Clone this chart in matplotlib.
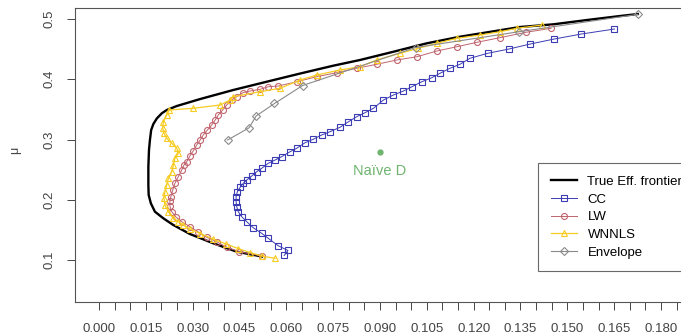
import numpy as np
import matplotlib
matplotlib.use("Agg")
import matplotlib.pyplot as plt

plt.rcParams['font.family'] = ['Liberation Sans', 'DejaVu Sans']

# true efficient frontier (sigma, mu)
true_sd = [0.0522, 0.0441, 0.0366, 0.0291, 0.0238, 0.0206, 0.0179, 0.0166, 0.0159, 0.0158,
           0.0158, 0.0160, 0.0163, 0.0167, 0.0174, 0.0185, 0.0201, 0.0217, 0.0249, 0.0324,
           0.0430, 0.0537, 0.0644, 0.0750, 0.0836, 0.0943, 0.1050, 0.1156, 0.1348, 0.1455,
           0.1562, 0.1669, 0.1726]
true_mu = [0.1058, 0.1138, 0.1277, 0.1432, 0.1581, 0.1692, 0.1802, 0.1941, 0.2079, 0.2245,
           0.2549, 0.2826, 0.2992, 0.3158, 0.3257, 0.3349, 0.3435, 0.3490, 0.3556, 0.3672,
           0.3822, 0.3959, 0.4095, 0.4225, 0.4320, 0.4457, 0.4597, 0.4706, 0.4867, 0.4912,
           0.4983, 0.5050, 0.5083]

cc_sd = [0.0593, 0.0605, 0.0574, 0.0542, 0.0521, 0.0494, 0.0473, 0.0457, 0.0446, 0.0441,
         0.0439, 0.0439, 0.0443, 0.0452, 0.0462, 0.0473, 0.0489, 0.0505, 0.0521, 0.0542,
         0.0564, 0.0585, 0.0612, 0.0633, 0.0660, 0.0686, 0.0713, 0.0740, 0.0772, 0.0799,
         0.0825, 0.0852, 0.0879, 0.0911, 0.0943, 0.0975, 0.1002, 0.1034, 0.1066, 0.1092,
         0.1124, 0.1156, 0.1188, 0.1245, 0.1313, 0.1381, 0.1458, 0.1545, 0.1651]
cc_mu = [0.1075, 0.1158, 0.1237, 0.1360, 0.1443, 0.1536, 0.1636, 0.1719, 0.1802, 0.1885,
         0.1968, 0.2051, 0.2134, 0.2207, 0.2273, 0.2328, 0.2394, 0.2466, 0.2522, 0.2605,
         0.2660, 0.2715, 0.2798, 0.2854, 0.2947, 0.3003, 0.3075, 0.3130, 0.3203, 0.3295,
         0.3378, 0.3445, 0.3518, 0.3656, 0.3739, 0.3805, 0.3876, 0.3959, 0.4026, 0.4099,
         0.4182, 0.4248, 0.4348, 0.4431, 0.4502, 0.4585, 0.4668, 0.4751, 0.4834]

lw_sd = [0.0522, 0.0449, 0.0409, 0.0377, 0.0345, 0.0318, 0.0291, 0.0265, 0.0247, 0.0233,
         0.0227, 0.0227, 0.0230, 0.0236, 0.0243, 0.0254, 0.0265, 0.0272, 0.0281, 0.0291,
         0.0302, 0.0313, 0.0324, 0.0334, 0.0347, 0.0361, 0.0372, 0.0382, 0.0396, 0.0409,
         0.0425, 0.0441, 0.0462, 0.0484, 0.0516, 0.0542, 0.0574, 0.0633, 0.0697, 0.0761,
         0.0825, 0.0889, 0.0954, 0.1018, 0.1082, 0.1146, 0.1210, 0.1284, 0.1367, 0.1448]
lw_mu = [0.1066, 0.1138, 0.1211, 0.1304, 0.1377, 0.1465, 0.1553, 0.1636, 0.1709, 0.1802,
         0.1896, 0.1979, 0.2051, 0.2162, 0.2273, 0.2383, 0.2494, 0.2577, 0.2632, 0.2726,
         0.2814, 0.2909, 0.2992, 0.3075, 0.3158, 0.3241, 0.3324, 0.3407, 0.3490, 0.3573,
         0.3656, 0.3710, 0.3780, 0.3805, 0.3833, 0.3876, 0.3888, 0.3959, 0.4042, 0.4109,
         0.4182, 0.4248, 0.4320, 0.4374, 0.4469, 0.4540, 0.4613, 0.4690, 0.4779, 0.4846]

wn_sd = [0.0564, 0.0521, 0.0484, 0.0445, 0.0407, 0.0365, 0.0324, 0.0291, 0.0270, 0.0253,
         0.0238, 0.0222, 0.0211, 0.0208, 0.0211, 0.0217, 0.0222, 0.0233, 0.0238, 0.0243,
         0.0254, 0.0249, 0.0233, 0.0217, 0.0208, 0.0204, 0.0206, 0.0217, 0.0225, 0.0302,
         0.0388, 0.0420, 0.0429, 0.0516, 0.0580, 0.0644, 0.0697, 0.0772, 0.0836, 0.0889,
         0.0964, 0.1023, 0.1082, 0.1146, 0.1220, 0.1284, 0.1338, 0.1418]
wn_mu = [0.1028, 0.1066, 0.1124, 0.1191, 0.1266, 0.1349, 0.1440, 0.1515, 0.1581, 0.1639,
         0.1692, 0.1802, 0.1913, 0.2024, 0.2134, 0.2245, 0.2356, 0.2466, 0.2577, 0.2688,
         0.2771, 0.2854, 0.2937, 0.3020, 0.3103, 0.3186, 0.3295, 0.3407, 0.3490, 0.3518,
         0.3573, 0.3656, 0.3710, 0.3793, 0.3850, 0.3988, 0.4070, 0.4154, 0.4208, 0.4320,
         0.4431, 0.4514, 0.4597, 0.4680, 0.4734, 0.4789, 0.4846, 0.4900]

env_sd = [0.0412, 0.0481, 0.0503, 0.0562, 0.0652, 0.1014, 0.1345, 0.1726]
env_mu = [0.2992, 0.3196, 0.3390, 0.3598, 0.3896, 0.4527, 0.4789, 0.5078]

naive_sd, naive_mu = 0.090, 0.279

labels = ["True Eff. frontier", "CC", "LW", "WNNLS", "Envelope"]

W, H = 681, 336
fig = plt.figure(figsize=(W / 100, H / 100), dpi=100)
# plot box runs off the right edge of the picture
ax = fig.add_axes([75 / W, (H - 302) / H, 615 / W, 294 / H])

ax.plot(true_sd, true_mu, color="black", lw=1.7, label=labels[0], zorder=2)
ax.plot(cc_sd, cc_mu, color="#3b3bb3", lw=0.7, marker="s", ms=4.3, mfc="none", mew=0.8,
        label=labels[1], zorder=3)
ax.plot(lw_sd, lw_mu, color="#c0646e", lw=0.7, marker="o", ms=4.3, mfc="none", mew=0.8,
        label=labels[2], zorder=3)
ax.plot(wn_sd, wn_mu, color="#f7cc22", lw=0.9, marker="^", ms=4.6, mfc="none", mew=0.8,
        label=labels[3], zorder=4)
ax.plot(env_sd, env_mu, color="#8a8a8a", lw=0.8, marker="D", ms=4.3, mfc="none", mew=0.8,
        label=labels[4], zorder=5)

ax.plot([naive_sd], [naive_mu], "o", color="#6fb46f", ms=3.5, zorder=5)
ax.text(naive_sd, naive_mu - 0.031, "Naïve D", color="#6fb46f", fontsize=10.5,
        ha="center", va="center")

ax.set_xlim(-0.0077, 0.1893)
ax.set_ylim(0.0303, 0.5183)

ax.set_xticks(np.arange(0, 0.1851, 0.015))
ax.set_xticklabels([f"{v:.3f}" for v in np.arange(0, 0.1851, 0.015)])
ax.set_xticks(np.arange(0, 0.1851, 0.005), minor=True)
ax.set_yticks([0.1, 0.2, 0.3, 0.4, 0.5])
ax.set_yticklabels(["0.1", "0.2", "0.3", "0.4", "0.5"], rotation=90, va="center")

ax.tick_params(axis="x", which="both", direction="out", length=6, width=0.7,
               labelsize=9.5, colors="#444444", pad=9)
ax.tick_params(axis="y", direction="out", length=6, width=0.7, labelsize=9.5,
               colors="#444444", pad=8)
for s in ax.spines.values():
    s.set_linewidth(0.8)
    s.set_color("#555555")

fig.text(15 / W, 1 - 150 / H, "μ", rotation=90, fontsize=9, color="#444444",
         ha="center", va="center")

leg = ax.legend(loc="upper left", bbox_to_anchor=(538 / W, 1 - 163 / H),
                bbox_transform=fig.transFigure, fontsize=9.5, frameon=True,
                fancybox=False, handlelength=2.0, handletextpad=0.8,
                labelspacing=0.42, borderpad=0.95, borderaxespad=0)
leg.get_frame().set_edgecolor("#444444")
leg.get_frame().set_linewidth(0.8)

fig.savefig("out.png", dpi=100)
